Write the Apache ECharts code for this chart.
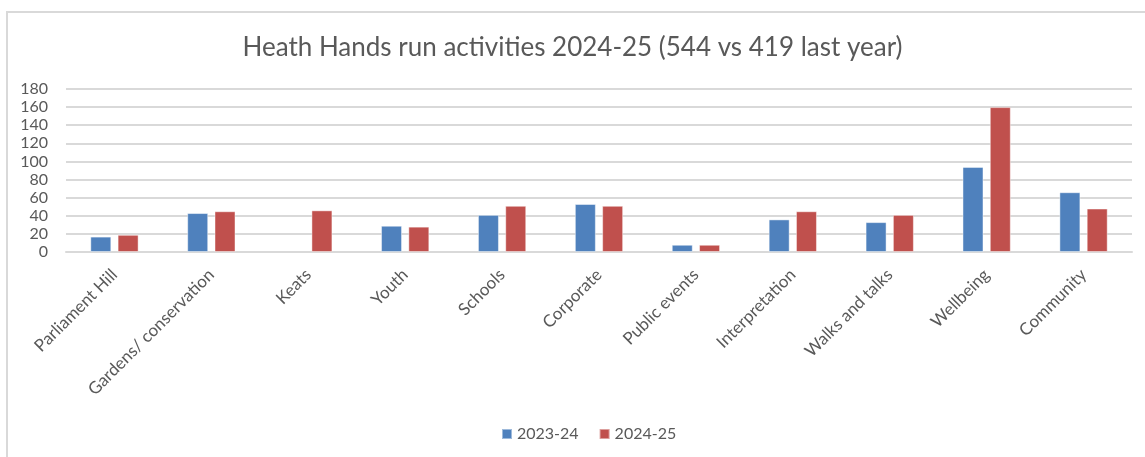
<!DOCTYPE html>
<html>
<head>
<meta charset="utf-8">
<script src="https://cdn.jsdelivr.net/npm/echarts@6/dist/echarts.min.js"></script>
<style>
  html, body { margin: 0; padding: 0; background: #fff; }
  #wrap { position: relative; width: 1145px; height: 457px; overflow: hidden; }
  #frame { position: absolute; left: 6px; top: 11px; width: 1200px; height: 500px;
           border-top: 2px solid #d9d9d9; border-left: 2px solid #d9d9d9; box-sizing: border-box; }
  #chart { position: absolute; left: 0; top: 0; width: 1145px; height: 457px; }
</style>
</head>
<body>
<div id="wrap">
  <div id="frame"></div>
  <div id="chart"></div>
</div>
<script>
const title = 'Heath Hands run activities 2024-25 (544 vs 419 last year)';
const categories = ['Parliament Hill', 'Gardens/ conservation', 'Keats', 'Youth', 'Schools', 'Corporate',
  'Public events', 'Interpretation', 'Walks and talks', 'Wellbeing', 'Community'];
const seriesNames = ['2023-24', '2024-25'];
const values2023 = [17, 43, null, 29, 41, 53, 8, 36, 33, 94, 66];
const values2024 = [19, 45, 46, 28, 51, 51, 8, 45, 41, 160, 48];
const yTicks = { min: 0, max: 180, interval: 20 };

const textColor = '#595959';
const fontFam = 'Lato, "Open Sans", sans-serif';
const chart = echarts.init(document.getElementById('chart'), null, { renderer: 'canvas' });
chart.setOption({
  animation: false,
  title: {
    text: title, left: 'center', top: 30,
    textStyle: { fontFamily: fontFam, fontSize: 26, fontWeight: 'normal', color: textColor }
  },
  legend: {
    data: seriesNames, bottom: 10, left: 496,
    icon: 'rect', itemWidth: 10, itemHeight: 10, itemGap: 20,
    textStyle: { fontFamily: fontFam, fontSize: 16, color: textColor }
  },
  grid: { left: 66, right: 13, top: 89, bottom: 205, containLabel: false },
  xAxis: {
    type: 'category', data: categories,
    axisLine: { lineStyle: { color: '#d9d9d9', width: 2 } },
    axisTick: { show: false },
    axisLabel: { rotate: 45, interval: 0, margin: 20, fontFamily: fontFam, fontSize: 17, color: textColor }
  },
  yAxis: {
    type: 'value', min: yTicks.min, max: yTicks.max, interval: yTicks.interval,
    axisLine: { show: false }, axisTick: { show: false },
    axisLabel: { margin: 18, fontFamily: fontFam, fontSize: 16, color: textColor },
    splitLine: { lineStyle: { color: '#d9d9d9', width: 2 } }
  },
  series: [
    { name: seriesNames[0], type: 'bar', data: values2023, barWidth: 21, barGap: '30%',
      itemStyle: { color: '#4F81BD', borderColor: 'rgba(255,255,255,0.45)', borderWidth: 1 } },
    { name: seriesNames[1], type: 'bar', data: values2024, barWidth: 21, barGap: '30%',
      itemStyle: { color: '#C0504D', borderColor: 'rgba(255,255,255,0.45)', borderWidth: 1 } }
  ]
});
</script>
</body>
</html>
